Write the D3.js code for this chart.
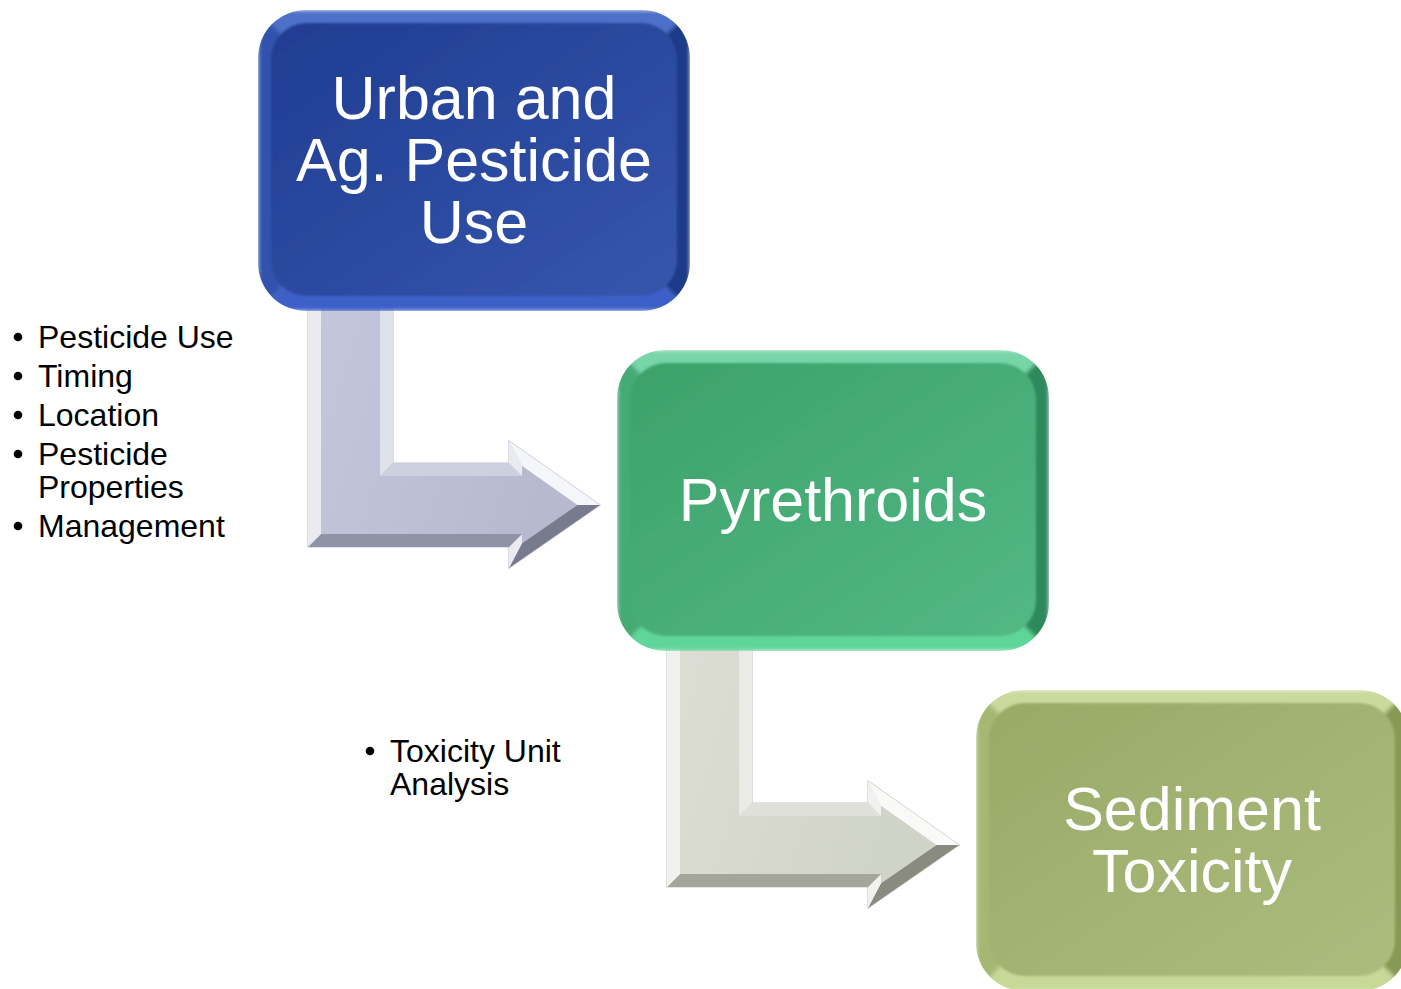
<!DOCTYPE html>
<html>
<head>
<meta charset="utf-8">
<script src="https://cdn.jsdelivr.net/npm/d3@7"></script>
<style>
  body { margin: 0; background: #fff; }
  svg { display: block; font-family: 'Liberation Sans', Arial, sans-serif; }
</style>
</head>
<body>
<div id="chart-area"></div>
<script>
// steps of the flow, one box each
const stepLabels = [
  ['Urban and', 'Ag. Pesticide', 'Use'],
  ['Pyrethroids'],
  ['Sediment', 'Toxicity']
];

// bullet notes next to the arrows (each item may wrap onto several lines)
const bulletGroups = [
  [['Pesticide Use'], ['Timing'], ['Location'], ['Pesticide', 'Properties'], ['Management']],
  [['Toxicity Unit', 'Analysis']]
];

const width = 1401;
const height = 989;

const boxW = 432;
const boxH = 301;
const bevel = 13;

const palette = {
  boxes: [
    { top: '#4e70c8', left: '#3152ad', bottom: '#3c61c8', right: '#1f3a88', face: ['#1f3d92', '#3656ac'] },
    { top: '#78d5a7', left: '#45ab75', bottom: '#5ed699', right: '#2e8a5c', face: ['#3ca26a', '#53b885'] },
    { top: '#cad99d', left: '#a5b772', bottom: '#c6d996', right: '#879955', face: ['#99aa67', '#abbc7e'] }
  ],
  arrows: [
    { base: '#bcc0d4', dark: '#6c6e80', face: ['#c3c7db', '#b7bacf'], line: '#c5c7d3' },
    { base: '#d4d6cc', dark: '#7c7e73', face: ['#dcded5', '#d0d3c8'], line: '#cacbc4' }
  ]
};

const svg = d3.select('#chart-area')
  .append('svg')
  .attr('width', width)
  .attr('height', height);

const defs = svg.append('defs');

const xStep = d3.scaleLinear().domain([0, stepLabels.length - 1]).range([258, 976]);
const yStep = d3.scaleLinear().domain([0, stepLabels.length - 1]).range([10, 690]);

defs.append('filter').attr('id', 'soft')
  .attr('x', '-5%').attr('y', '-5%').attr('width', '110%').attr('height', '110%')
  .append('feGaussianBlur').attr('stdDeviation', 2);

defs.append('filter').attr('id', 'soft-face')
  .append('feGaussianBlur').attr('stdDeviation', 0.8);

// ---------- arrows ----------
function intersect(l1, l2) {
  const [x1, y1] = l1.p, [dx1, dy1] = l1.dir;
  const [x2, y2] = l2.p, [dx2, dy2] = l2.dir;
  const den = dx1 * dy2 - dy1 * dx2;
  const t = ((x2 - x1) * dy2 - (y2 - y1) * dx2) / den;
  return [x1 + t * dx1, y1 + t * dy1];
}

function insetPolygon(pts, d) {
  const n = pts.length;
  const lines = pts.map((p, i) => {
    const q = pts[(i + 1) % n];
    const dx = q[0] - p[0], dy = q[1] - p[1], len = Math.hypot(dx, dy);
    return { p: [p[0] - dy / len * d, p[1] + dx / len * d], dir: [dx / len, dy / len], out: [dy / len, -dx / len] };
  });
  return {
    inner: pts.map((_, i) => intersect(lines[(i - 1 + n) % n], lines[i])),
    normals: lines.map(l => l.out)
  };
}

// light on a facet, by the angle its outward normal points to
const shade = d3.scaleLinear()
  .domain([-180, -90, -55, 0, 55, 90, 180])
  .range([0.8, 0.3, 1, 0.6, -0.85, -0.55, 0.8]);

function arrowPoints(i) {
  const ox = xStep(i), oy = yStep(i);
  return [
    [ox + 50, oy + boxH - 30],
    [ox + 135, oy + boxH - 30],
    [ox + 135, oy + 453],
    [ox + 251, oy + 453],
    [ox + 251, oy + 431],
    [ox + 342, oy + 495],
    [ox + 251, oy + 558],
    [ox + 251, oy + 537],
    [ox + 50, oy + 537]
  ];
}

d3.range(stepLabels.length - 1).forEach((i) => {
  const col = palette.arrows[i];
  const pts = arrowPoints(i);
  const { inner, normals } = insetPolygon(pts, bevel);
  const g = svg.append('g').attr('class', 'arrow');

  const grad = defs.append('linearGradient').attr('id', 'arrow-face-' + i)
    .attr('x1', 0).attr('y1', 0).attr('x2', 1).attr('y2', 0.3);
  grad.append('stop').attr('offset', '0%').attr('stop-color', col.face[0]);
  grad.append('stop').attr('offset', '100%').attr('stop-color', col.face[1]);

  g.append('path')
    .attr('d', d3.line()(pts) + 'Z')
    .attr('fill', col.base)
    .attr('stroke', col.line)
    .attr('stroke-width', 1.2);

  g.selectAll('path.facet')
    .data(pts.map((p, k) => ({ k, n: normals[k] })))
    .enter()
    .append('path')
    .attr('class', 'facet')
    .attr('d', (f) => {
      const k2 = (f.k + 1) % pts.length;
      return d3.line()([pts[f.k], pts[k2], inner[k2], inner[f.k]]) + 'Z';
    })
    .attr('fill', (f) => {
      const s = shade(Math.atan2(f.n[1], f.n[0]) * 180 / Math.PI);
      return s >= 0 ? d3.interpolateRgb(col.base, '#ffffff')(s * 0.85)
                    : d3.interpolateRgb(col.base, col.dark)(-s);
    })
    .attr('stroke', 'none');

  g.append('path')
    .attr('d', d3.line()(inner) + 'Z')
    .attr('fill', 'url(#arrow-face-' + i + ')');
});

// ---------- boxes ----------
stepLabels.forEach((lines, i) => {
  const col = palette.boxes[i];
  const g = svg.append('g')
    .attr('class', 'step')
    .attr('transform', 'translate(' + xStep(i) + ',' + yStep(i) + ')');

  defs.append('clipPath').attr('id', 'clip-' + i)
    .append('rect').attr('width', boxW).attr('height', boxH).attr('rx', 48).attr('ry', 48);

  const face = defs.append('linearGradient').attr('id', 'box-face-' + i)
    .attr('x1', 0).attr('y1', 0).attr('x2', 1).attr('y2', 1);
  face.append('stop').attr('offset', '0%').attr('stop-color', col.face[0]);
  face.append('stop').attr('offset', '100%').attr('stop-color', col.face[1]);

  const h2 = boxH / 2;
  const sides = [
    { pts: [[0, 0], [boxW, 0], [boxW - h2, h2], [h2, h2]], fill: col.top },
    { pts: [[boxW, 0], [boxW, boxH], [boxW - h2, h2]], fill: col.right },
    { pts: [[0, boxH], [h2, h2], [boxW - h2, h2], [boxW, boxH]], fill: col.bottom },
    { pts: [[0, 0], [h2, h2], [0, boxH]], fill: col.left }
  ];

  const rim = g.append('g').attr('clip-path', 'url(#clip-' + i + ')')
    .append('g').attr('filter', 'url(#soft)');
  rim.selectAll('path')
    .data(sides)
    .enter()
    .append('path')
    .attr('d', (s) => d3.line()(s.pts) + 'Z')
    .attr('fill', (s) => s.fill);

  // thin highlight along the top rim
  g.append('path')
    .attr('d', 'M42,4 L' + (boxW - 42) + ',4')
    .attr('stroke', '#ffffff')
    .attr('stroke-opacity', 0.25)
    .attr('stroke-width', 3)
    .attr('filter', 'url(#soft-face)');

  g.append('rect')
    .attr('x', bevel)
    .attr('y', bevel)
    .attr('width', boxW - 2 * bevel)
    .attr('height', boxH - bevel - 15)
    .attr('rx', 36).attr('ry', 36)
    .attr('fill', 'url(#box-face-' + i + ')')
    .attr('filter', 'url(#soft-face)');

  const lineH = 62;
  g.append('text')
    .attr('text-anchor', 'middle')
    .attr('fill', '#ffffff')
    .attr('font-size', 61)
    .selectAll('tspan')
    .data(lines)
    .enter()
    .append('tspan')
    .attr('x', boxW / 2)
    .attr('y', (d, k) => h2 + 20 + (k - (lines.length - 1) / 2) * lineH)
    .text((d) => d);
});

// ---------- bullet notes ----------
const bulletAnchors = [{ x: 38, y: 348 }, { x: 390, y: 762 }];
const lineStep = 33;
const itemGap = 6;

bulletGroups.forEach((items, gi) => {
  const a = bulletAnchors[gi];
  const g = svg.append('g').attr('class', 'notes');
  let y = a.y;
  items.forEach((item) => {
    g.append('circle')
      .attr('cx', a.x - 20)
      .attr('cy', y - 11)
      .attr('r', 4.3)
      .attr('fill', '#000');
    item.forEach((line, k) => {
      g.append('text')
        .attr('x', a.x)
        .attr('y', y + k * lineStep)
        .attr('font-size', 32)
        .attr('fill', '#000')
        .text(line);
    });
    y += item.length * lineStep + itemGap;
  });
});
</script>
</body>
</html>
